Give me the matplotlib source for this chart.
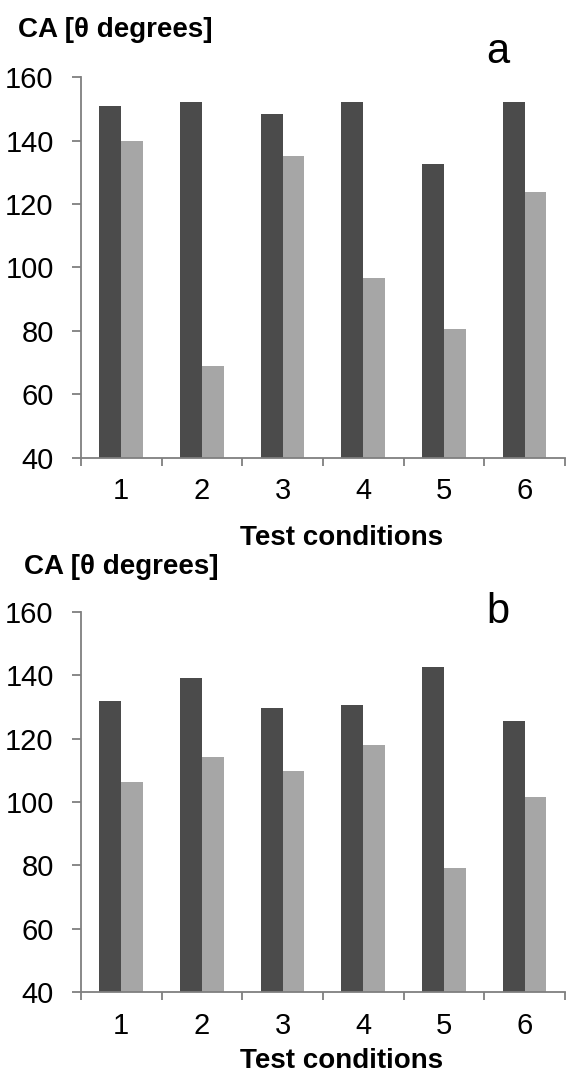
import matplotlib
matplotlib.use("Agg")
import matplotlib.pyplot as plt
import numpy as np

plt.rcParams['font.family'] = ['Liberation Sans', 'DejaVu Sans']

conditions = ["1", "2", "3", "4", "5", "6"]

# panel a
a_dark = [151.1, 152.2, 148.3, 152.2, 132.5, 152.2]
a_light = [139.8, 68.8, 135.3, 96.7, 80.7, 123.8]

# panel b
b_dark = [131.8, 139.1, 129.6, 130.7, 142.7, 125.5]
b_light = [106.3, 114.2, 109.7, 117.8, 79.3, 101.6]

y_ticks = [40, 60, 80, 100, 120, 140, 160]
y_label = "CA [θ degrees]"
x_label = "Test conditions"

DARK = "#4b4b4b"
LIGHT = "#a6a6a6"
AXIS = "#7f7f7f"
W = 0.27

fig = plt.figure(figsize=(5.68, 10.74), dpi=100)

panels = [
    (a_dark, a_light, [0.1423, 0.5740, 0.8525, 0.3540]),
    (b_dark, b_light, [0.1423, 0.0761, 0.8525, 0.3544]),
]

for dark, light, rect in panels:
    ax = fig.add_axes(rect)
    x = np.arange(1, len(conditions) + 1)
    ax.bar(x - W, dark, width=W, align='edge', color=DARK, linewidth=0)
    ax.bar(x, light, width=W, align='edge', color=LIGHT, linewidth=0)
    ax.set_xlim(0.5, len(conditions) + 0.5)
    ax.set_ylim(40, 160)
    ax.set_yticks(y_ticks)
    ax.set_yticklabels([str(v) for v in y_ticks], fontsize=21)
    ax.set_xticks(x)
    ax.set_xticklabels(conditions, fontsize=21)
    ax.set_xticks(np.arange(0.5, len(conditions) + 1.0, 1.0), minor=True)
    ax.tick_params(axis='x', which='major', length=0, pad=14)
    ax.tick_params(axis='x', which='minor', length=6, width=1.3,
                   color=AXIS, direction='out')
    ax.tick_params(axis='y', length=6.5, width=1.3, color=AXIS,
                   direction='out', pad=13)
    for side in ('top', 'right'):
        ax.spines[side].set_visible(False)
    for side in ('left', 'bottom'):
        ax.spines[side].set_color(AXIS)
        ax.spines[side].set_linewidth(1.3)

# panel letters
fig.text(498 / 568, 1 - 62.7 / 1074, "a", fontsize=30, ha='center', va='baseline')
fig.text(498 / 568, 1 - 623 / 1074, "b", fontsize=30, ha='center', va='baseline')

# y-axis captions above each panel
fig.text(18 / 568, 1 - 36.7 / 1074, y_label, fontsize=20, fontweight='bold',
         ha='left', va='baseline')
fig.text(24 / 568, 1 - 574 / 1074, y_label, fontsize=20, fontweight='bold',
         ha='left', va='baseline')

# x-axis captions below each panel
fig.text(342 / 568, 1 - 545 / 1074, x_label, fontsize=20, fontweight='bold',
         ha='center', va='baseline')
fig.text(342 / 568, 1 - 1068 / 1074, x_label, fontsize=20, fontweight='bold',
         ha='center', va='baseline')

fig.savefig("out.png", dpi=100, facecolor='white')
